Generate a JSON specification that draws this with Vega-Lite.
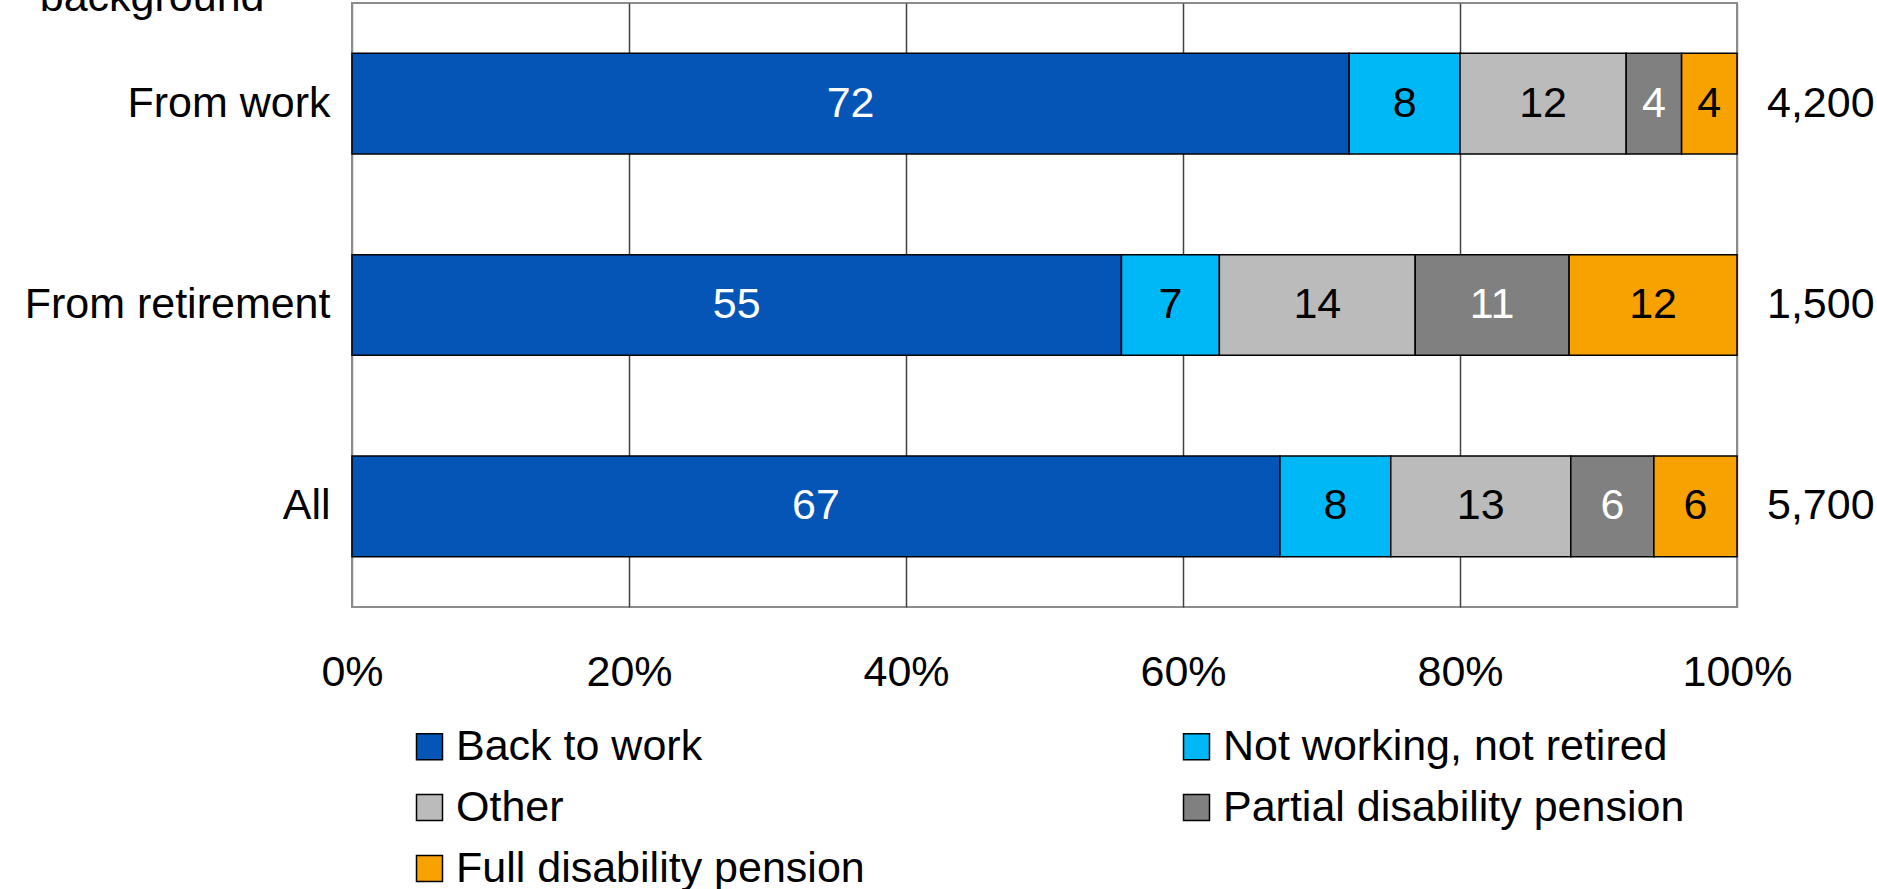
{
  "$schema": "https://vega.github.io/schema/vega-lite/v6.json",
  "autosize": {"type": "none"},
  "padding": {"left": 352, "top": 3, "right": 140, "bottom": 282},
  "width": 1385,
  "height": 604,
  "config": {
    "font": "Liberation Sans",
    "view": {"stroke": "#8C8C8C", "strokeWidth": 2}
  },
  "datasets": {
    "shares": [
      {"category": "From work", "series": "Back to work", "value": 72, "k": 1},
      {"category": "From work", "series": "Not working, not retired", "value": 8, "k": 2},
      {"category": "From work", "series": "Other", "value": 12, "k": 3},
      {"category": "From work", "series": "Partial disability pension", "value": 4, "k": 4},
      {"category": "From work", "series": "Full disability pension", "value": 4, "k": 5},
      {"category": "From retirement", "series": "Back to work", "value": 55, "k": 1},
      {"category": "From retirement", "series": "Not working, not retired", "value": 7, "k": 2},
      {"category": "From retirement", "series": "Other", "value": 14, "k": 3},
      {"category": "From retirement", "series": "Partial disability pension", "value": 11, "k": 4},
      {"category": "From retirement", "series": "Full disability pension", "value": 12, "k": 5},
      {"category": "All", "series": "Back to work", "value": 67, "k": 1},
      {"category": "All", "series": "Not working, not retired", "value": 8, "k": 2},
      {"category": "All", "series": "Other", "value": 13, "k": 3},
      {"category": "All", "series": "Partial disability pension", "value": 6, "k": 4},
      {"category": "All", "series": "Full disability pension", "value": 6, "k": 5}
    ],
    "totals": [
      {"category": "From work", "n": "4,200"},
      {"category": "From retirement", "n": "1,500"},
      {"category": "All", "n": "5,700"}
    ]
  },
  "layer": [
    {
      "data": {"name": "shares"},
      "mark": {"type": "bar", "stroke": "black", "strokeWidth": 1.5},
      "encoding": {
        "y": {
          "field": "category",
          "type": "nominal",
          "sort": ["From work", "From retirement", "All"],
          "scale": {"paddingInner": 0.5, "paddingOuter": 0.25},
          "axis": {
            "title": "background",
            "titleAngle": 0,
            "titleAlign": "right",
            "titleBaseline": "alphabetic",
            "titleX": -88,
            "titleY": 7,
            "titleFontSize": 43,
            "titleFontWeight": "normal",
            "titleColor": "black",
            "titleLimit": 1000,
            "labelFontSize": 43,
            "labelColor": "black",
            "labelPadding": 22,
            "labelLimit": 1000,
            "ticks": false,
            "domain": false
          }
        },
        "x": {
          "field": "value",
          "type": "quantitative",
          "stack": "normalize",
          "axis": {
            "title": null,
            "format": "%",
            "values": [0, 0.2, 0.4, 0.6, 0.8, 1],
            "labelFontSize": 43,
            "labelColor": "black",
            "labelPadding": 44,
            "labelFlush": false,
            "ticks": false,
            "domain": false,
            "grid": true,
            "gridColor": {"condition": {"test": "datum.value === 0 || datum.value === 1", "value": "#8C8C8C"}, "value": "#404040"},
            "gridWidth": 1.5
          }
        },
        "color": {
          "field": "series",
          "type": "nominal",
          "scale": {
            "domain": ["Back to work", "Other", "Full disability pension", "Not working, not retired", "Partial disability pension"],
            "range": ["#0455B5", "#BBBBBB", "#F7A200", "#00B8F5", "#808080"]
          },
          "legend": {
            "title": null,
            "orient": "none",
            "legendX": 56,
            "legendY": 722,
            "columns": 2,
            "padding": 0,
            "symbolType": "square",
            "symbolSize": 676,
            "symbolStrokeColor": "black",
            "symbolStrokeWidth": 1.5,
            "symbolOpacity": 1,
            "labelFontSize": 43,
            "labelColor": "black",
            "labelOffset": 5,
            "labelLimit": 1000,
            "rowPadding": 17,
            "columnPadding": 310
          }
        },
        "order": {"field": "k", "type": "quantitative"}
      }
    },
    {
      "data": {"name": "shares"},
      "mark": {"type": "text", "fontSize": 43, "baseline": "middle", "align": "center"},
      "encoding": {
        "y": {"field": "category", "type": "nominal", "sort": ["From work", "From retirement", "All"]},
        "x": {"field": "value", "type": "quantitative", "stack": "normalize", "bandPosition": 0.5},
        "detail": {"field": "series", "type": "nominal"},
        "order": {"field": "k", "type": "quantitative"},
        "text": {"field": "value", "type": "quantitative"},
        "color": {
          "condition": {"test": "datum.series === 'Back to work' || datum.series === 'Partial disability pension'", "value": "white"},
          "value": "black"
        }
      }
    },
    {
      "data": {"name": "totals"},
      "mark": {"type": "text", "fontSize": 43, "align": "left", "baseline": "middle", "dx": 30, "color": "black"},
      "encoding": {
        "y": {"field": "category", "type": "nominal", "sort": ["From work", "From retirement", "All"]},
        "x": {"datum": 1, "type": "quantitative"},
        "text": {"field": "n", "type": "nominal"}
      }
    }
  ]
}
